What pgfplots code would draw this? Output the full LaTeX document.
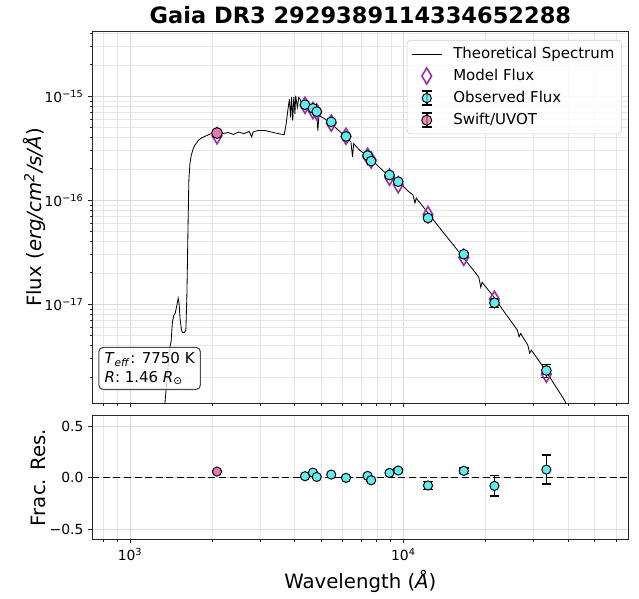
\documentclass[border=0pt]{standalone}
\usepackage{pgfplots}
\usepackage{pgfplotstable}
\pgfplotsset{compat=1.18}
\usepackage{fontspec}
\setmainfont{DejaVu Sans}
\definecolor{obscyan}{RGB}{95,238,238}
\definecolor{swiftpink}{RGB}{232,120,175}
\definecolor{modelpurple}{RGB}{150,50,170}
\definecolor{gridmaj}{RGB}{218,218,218}
\definecolor{gridmin}{RGB}{230,230,230}

\pgfplotstableread{
lam flux
1.330e3 9.0e-19
1.343e3 1.17e-18
1.396e3 3.78e-18
1.413e3 4.37e-18
1.429e3 6.76e-18
1.445e3 7.83e-18
1.462e3 8.13e-18
1.483e3 9.75e-18
1.500e3 1.146e-17
1.510e3 1.05e-17
1.524e3 7.28e-18
1.542e3 5.64e-18
1.556e3 5.36e-18
1.581e3 5.36e-18
1.600e3 5.64e-18
1.614e3 1.213e-17
1.629e3 5.24e-17
1.641e3 1.567e-16
1.656e3 2.26e-16
1.675e3 2.71e-16
1.702e3 3.14e-16
1.726e3 3.38e-16
1.778e3 3.77e-16
1.832e3 4.00e-16
1.914e3 4.21e-16
2.000e3 4.43e-16
2.094e3 4.53e-16
2.188e3 4.37e-16
2.286e3 4.49e-16
2.388e3 4.30e-16
2.495e3 4.53e-16
2.612e3 4.37e-16
2.729e3 4.59e-16
2.786e3 4.06e-16
2.818e3 4.53e-16
2.938e3 4.69e-16
3.119e3 4.69e-16
3.404e3 4.43e-16
3.664e3 4.27e-16
3.724e3 5.43e-16
3.776e3 7.28e-16
3.828e3 9.40e-16
3.864e3 6.28e-16
3.899e3 9.75e-16
3.936e3 5.83e-16
3.972e3 9.89e-16
4.009e3 6.76e-16
4.036e3 1.012e-15
4.093e3 7.83e-16
4.140e3 9.75e-16
4.188e3 9.40e-16
4.246e3 8.41e-16
4.335e3 8.13e-16
4.508e3 7.71e-16
4.710e3 7.01e-16
4.819e3 6.76e-16
4.864e3 4.69e-16
4.909e3 6.52e-16
5.152e3 6.07e-16
5.458e3 5.43e-16
5.794e3 4.69e-16
6.138e3 4.11e-16
6.427e3 3.63e-16
6.516e3 2.61e-16
6.577e3 3.50e-16
6.918e3 3.03e-16
7.328e3 2.71e-16
7.780e3 2.34e-16
8.260e3 2.02e-16
8.750e3 1.75e-16
9.290e3 1.567e-16
9.863e3 1.406e-16
1.045e4 1.213e-16
1.084e4 1.127e-16
1.102e4 9.42e-17
1.114e4 1.05e-16
1.178e4 8.73e-17
1.285e4 6.52e-17
1.403e4 4.86e-17
1.535e4 3.63e-17
1.675e4 2.71e-17
1.832e4 2.02e-17
1.888e4 1.815e-17
1.919e4 1.456e-17
1.941e4 1.626e-17
2.123e4 1.213e-17
2.317e4 8.73e-18
2.535e4 6.30e-18
2.612e4 5.64e-18
2.649e4 4.86e-18
2.685e4 5.24e-18
2.851e4 4.06e-18
2.897e4 3.38e-18
2.938e4 3.63e-18
3.206e4 2.62e-18
3.508e4 1.82e-18
3.890e4 1.19e-18
4.000e4 1.00e-18
}\spectrum

\pgfplotstableread{
lam flux
2080 4.17e-16
4365 8.19e-16
4667 7.29e-16
4819 7.08e-16
5445 5.52e-16
6166 4.12e-16
7396 2.65e-16
7621 2.44e-16
8892 1.67e-16
9572 1.41e-16
12300 7.28e-17
16630 2.83e-17
21530 1.117e-17
33340 2.13e-18
}\model

\pgfplotstableread{
lam flux err
4365 8.30e-16 0.008
4667 7.66e-16 0.008
4819 7.12e-16 0.008
5445 5.68e-16 0.008
6166 4.11e-16 0.008
7396 2.69e-16 0.008
7621 2.38e-16 0.008
8892 1.75e-16 0.015
9572 1.51e-16 0.015
12300 6.76e-17 0.038
16630 3.03e-17 0.027
21530 1.033e-17 0.099
33340 2.31e-18 0.141
}\observed

\pgfplotstableread{
lam flux err
2080 4.43e-16 0.008
}\swift

\pgfplotstableread{
lam res err
4365 0.013 0.008
4667 0.048 0.008
4819 0.006 0.008
5445 0.029 0.008
6166 -0.003 0.008
7396 0.016 0.008
7621 -0.026 0.008
8892 0.045 0.015
9572 0.068 0.015
12300 -0.077 0.038
16630 0.065 0.027
21530 -0.081 0.099
33340 0.077 0.141
}\residual

\pgfplotstableread{
lam res err
2080 0.058 0.008
}\swiftres

\begin{document}
\begin{tikzpicture}
\useasboundingbox (-66.5pt,-140.2pt) rectangle (393.6pt,290.4pt);
\begin{axis}[
  scale only axis, width=385.9pt,
  xmode=log, xmin=728, xmax=66500,
  axis line style={black!85, line width=0.8pt},
  tick align=outside, tick pos=left,
  major tick length=2.9pt, minor tick length=1.7pt,
  every tick/.style={black!85, line width=0.7pt},
  grid=both,
  major grid style={gridmaj, line width=0.6pt},
  minor grid style={gridmin, line width=0.5pt},
  xtick={1000,10000},
  minor xtick={800,900,2000,3000,4000,5000,6000,7000,8000,9000,20000,30000,40000,50000,60000},
  tick label style={font=\fontsize{10}{12}\selectfont},
  every axis y label/.style={at={(axis description cs:-0.0863,0.5)}, rotate=90, anchor=south, inner sep=0pt, font=\fontsize{14.2}{17}\selectfont},
  at={(0,0)}, anchor=south west, height=267.6pt,
  ymode=log, ymin=1.116e-18, ymax=4.18e-15,
  ytick={1e-17,1e-16,1e-15},
  yticklabels={10\textsuperscript{−17},10\textsuperscript{−16},10\textsuperscript{−15}},
  minor ytick={2e-18,3e-18,4e-18,5e-18,6e-18,7e-18,8e-18,9e-18,2e-17,3e-17,4e-17,5e-17,6e-17,7e-17,8e-17,9e-17,2e-16,3e-16,4e-16,5e-16,6e-16,7e-16,8e-16,9e-16,2e-15,3e-15,4e-15},
  xticklabels={,},
  ylabel={Flux (\textit{erg/cm\textsuperscript{2}/s/Å})},
  title={Gaia DR3 2929389114334652288},
  every axis title/.style={at={(axis description cs:0.5,1)}, anchor=base, yshift=5.9pt, font=\bfseries\fontsize{16.2}{19}\selectfont},
  legend cell align=left,
  legend style={at={(rel axis cs:0.9877,0.9777)}, anchor=north east, draw=black!20, rounded corners=2.5pt, fill=white, fill opacity=0.8, text opacity=1, font=\fontsize{10.8}{13}\selectfont, row sep=2.2pt, inner xsep=3pt, inner ysep=3pt,
    /tikz/every odd column/.append style={column sep=6pt}},
]
\addplot[black, line width=0.6pt, legend image code/.code={\draw[black, line width=0.6pt] (0pt,0pt) -- (21.6pt,0pt);}] table[x=lam, y=flux] {\spectrum};
\addlegendentry{Theoretical Spectrum}
\addplot[only marks, mark=diamond, mark size=5.8pt, modelpurple, line width=1.15pt, mark options={xscale=0.8},
  legend image code/.code={\draw[modelpurple, line width=1.15pt] plot[only marks, mark=diamond, mark size=5.8pt, mark options={xscale=0.8}] coordinates {(10.8pt,0pt)};}] table[x=lam, y=flux] {\model};
\addlegendentry{Model Flux}
% error bars drawn first, markers on top
\addplot[only marks, mark=none, forget plot,
  error bars/.cd, y dir=both, y explicit relative,
  error bar style={black, line width=1.1pt},
  error mark options={black, rotate=90, line width=1.1pt, mark size=3.6pt}
  ] table[x=lam, y=flux, y error=err] {\observed};
\addplot[only marks, mark=none, forget plot,
  error bars/.cd, y dir=both, y explicit relative,
  error bar style={black, line width=1.1pt},
  error mark options={black, rotate=90, line width=1.1pt, mark size=3.6pt}
  ] table[x=lam, y=flux, y error=err] {\swift};
\addplot[only marks, mark=*, mark size=3.5pt, mark options={fill=obscyan, draw=black, line width=0.7pt},
  legend image code/.code={
    \draw[black, line width=1.1pt] (10.8pt,-5pt) -- (10.8pt,5pt) (7.2pt,-5pt) -- (14.4pt,-5pt) (7.2pt,5pt) -- (14.4pt,5pt);
    \draw[black, line width=0.7pt, fill=obscyan] (10.8pt,0pt) circle[radius=3.3pt];}
  ] table[x=lam, y=flux] {\observed};
\addlegendentry{Observed Flux}
\addplot[only marks, mark=*, mark size=3.9pt, mark options={fill=swiftpink, draw=black, line width=0.7pt},
  legend image code/.code={
    \draw[black, line width=1.1pt] (10.8pt,-5pt) -- (10.8pt,5pt) (7.2pt,-5pt) -- (14.4pt,-5pt) (7.2pt,5pt) -- (14.4pt,5pt);
    \draw[black, line width=0.7pt, fill=swiftpink] (10.8pt,0pt) circle[radius=3.6pt];}
  ] table[x=lam, y=flux] {\swift};
\addlegendentry{Swift/UVOT}
\node[draw=black!70, line width=0.8pt, rounded corners=3pt, fill=white, fill opacity=0.8, text opacity=1,
  anchor=south west, align=left, inner xsep=4.1pt, inner ysep=3.5pt, xshift=4.3pt, yshift=9.6pt,
  font=\fontsize{10.8}{13.5}\selectfont] at (rel axis cs:0,0)
  {\textit{T}\textsubscript{\textit{eff}}: 7750 K\\\textit{R}: 1.46 \textit{R}\textsubscript{⊙}};
\end{axis}
\begin{axis}[
  scale only axis, width=385.9pt,
  xmode=log, xmin=728, xmax=66500,
  axis line style={black!85, line width=0.8pt},
  tick align=outside, tick pos=left,
  major tick length=2.9pt, minor tick length=1.7pt,
  every tick/.style={black!85, line width=0.7pt},
  grid=both,
  major grid style={gridmaj, line width=0.6pt},
  minor grid style={gridmin, line width=0.5pt},
  xtick={1000,10000},
  minor xtick={800,900,2000,3000,4000,5000,6000,7000,8000,9000,20000,30000,40000,50000,60000},
  tick label style={font=\fontsize{10}{12}\selectfont},
  every axis y label/.style={at={(axis description cs:-0.0863,0.5)}, rotate=90, anchor=south, inner sep=0pt, font=\fontsize{14.2}{17}\selectfont},
  every axis x label/.style={at={(axis description cs:0.5,-0.394)}, anchor=base, inner sep=0pt, font=\fontsize{14.2}{17}\selectfont},
  at={(0,-8.9pt)}, anchor=north west, height=89.1pt,
  ymin=-0.6, ymax=0.6,
  ytick={-0.5,0,0.5},
  yticklabels={−0.5,0.0,0.5},
  xticklabels={10\textsuperscript{3},10\textsuperscript{4}},
  xlabel={Wavelength (\textit{Å})},
  ylabel={Frac. Res.},
]
\addplot[black, line width=1.2pt, dash pattern=on 5pt off 2.6pt] coordinates {(728,0) (66500,0)};
\addplot[only marks, mark=none,
  error bars/.cd, y dir=both, y explicit,
  error bar style={black, line width=1.1pt},
  error mark options={black, rotate=90, line width=1.1pt, mark size=3.4pt}
  ] table[x=lam, y=res, y error=err] {\residual};
\addplot[only marks, mark=none,
  error bars/.cd, y dir=both, y explicit,
  error bar style={black, line width=1.1pt},
  error mark options={black, rotate=90, line width=1.1pt, mark size=3.4pt}
  ] table[x=lam, y=res, y error=err] {\swiftres};
\addplot[only marks, mark=*, mark size=3.3pt, mark options={fill=obscyan, draw=black, line width=0.7pt}]
  table[x=lam, y=res] {\residual};
\addplot[only marks, mark=*, mark size=3.3pt, mark options={fill=swiftpink, draw=black, line width=0.7pt}]
  table[x=lam, y=res] {\swiftres};
\end{axis}
\end{tikzpicture}
\end{document}
